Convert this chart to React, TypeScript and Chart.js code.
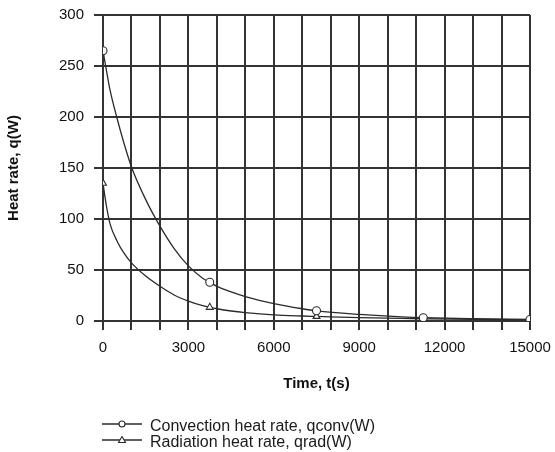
import React, { useEffect, useRef } from "react";
import { Chart, registerables } from "chart.js";

Chart.register(...registerables);

const times = [0, 125, 250, 500, 750, 1000, 1500, 2000, 2500, 3000, 3500, 3750, 4000, 4500, 5000, 6000, 7000, 7500, 9000, 10500, 11250, 13000, 15000];
const convection = [265, 245, 226, 198, 173, 151, 119, 93, 71, 54, 42, 38, 34, 28.5, 24, 17, 12, 10, 6.5, 4, 3.2, 2.2, 1.5];
const radiation = [135, 112, 95, 78, 66, 57, 44, 34, 25.5, 19.5, 15, 13.4, 12, 9.8, 8.2, 6, 4.9, 4.5, 3.3, 2.5, 2.2, 1.6, 1.2];
const markerTimes = [0, 3750, 7500, 11250, 15000];
const seriesLabels = ["Convection heat rate, qconv(W)", "Radiation heat rate, qrad(W)"];
const markerStyles = ["circle", "triangle"];
const xTickLabels = [0, 3000, 6000, 9000, 12000, 15000];

const FONT = "'Liberation Sans', Arial, sans-serif";
const INK = "#2b2b2b";

const legendPlugin = {
  id: "customLegend",
  afterDraw(chart: any) {
    const { ctx, chartArea } = chart;
    ctx.save();
    chart.data.datasets.forEach((ds: any, i: number) => {
      const x0 = chartArea.left - 1;
      const x1 = x0 + 40;
      const y = 424 + i * 16;
      ctx.strokeStyle = INK;
      ctx.lineWidth = 1.3;
      ctx.beginPath();
      ctx.moveTo(x0, y);
      ctx.lineTo(x1, y);
      ctx.stroke();
      ctx.fillStyle = "#fff";
      ctx.lineWidth = 1.1;
      const cx = (x0 + x1) / 2;
      ctx.beginPath();
      if (ds.pointStyle === "circle") {
        ctx.arc(cx, y, 3, 0, Math.PI * 2);
      } else {
        ctx.moveTo(cx, y - 3.5);
        ctx.lineTo(cx + 3.5, y + 2.5);
        ctx.lineTo(cx - 3.5, y + 2.5);
        ctx.closePath();
      }
      ctx.fill();
      ctx.stroke();
      ctx.fillStyle = "#1a1a1a";
      ctx.font = `16px ${FONT}`;
      ctx.textBaseline = "middle";
      ctx.textAlign = "left";
      ctx.fillText(ds.label, x1 + 8, y + 3);
    });
    ctx.restore();
  },
};

export default function App() {
  const ref = useRef<HTMLCanvasElement | null>(null);

  useEffect(() => {
    if (!ref.current) return;
    const mk = (vals: number[]) => times.map((t, i) => ({ x: t, y: vals[i] }));
    const radius = (c: any) => (markerTimes.includes(c.raw?.x) ? 4 : 0);
    const chart = new Chart(ref.current, {
      type: "line",
      data: {
        datasets: [convection, radiation].map((vals, i) => ({
          label: seriesLabels[i],
          data: mk(vals),
          borderColor: INK,
          borderWidth: 1.3,
          backgroundColor: "#fff",
          pointBackgroundColor: "#fff",
          pointBorderColor: INK,
          pointBorderWidth: 1.1,
          pointStyle: markerStyles[i],
          pointRadius: radius,
          pointHoverRadius: radius,
          cubicInterpolationMode: "monotone",
          fill: false,
        })),
      },
      options: {
        responsive: false,
        animation: false,
        events: [],
        layout: { padding: { left: 0, top: 15, right: 25, bottom: 59 } },
        plugins: { legend: { display: false }, tooltip: { enabled: false } },
        scales: {
          x: {
            type: "linear",
            min: 0,
            max: 15000,
            afterFit: (s: any) => {
              s.height = 72;
              s.paddingLeft = 0;
              s.paddingRight = 0;
            },
            afterBuildTicks: (s: any) => {
              const t = [];
              for (let v = 0; v <= 15000; v += 1000) t.push({ value: v });
              s.ticks = t;
            },
            border: { display: true, color: "#333", width: 2 },
            grid: { color: "#333", lineWidth: 2, tickLength: 9, drawTicks: true },
            ticks: {
              autoSkip: false,
              maxRotation: 0,
              padding: 9,
              color: "#111",
              font: { family: FONT, size: 15 },
              callback: (v: any) => (xTickLabels.includes(Number(v)) ? String(v) : ""),
            },
            title: {
              display: true,
              text: "Time, t(s)",
              color: "#111",
              font: { family: FONT, size: 15, weight: "bold" },
              padding: { top: 0, bottom: 0 },
            },
          },
          y: {
            type: "linear",
            min: 0,
            max: 300,
            afterFit: (s: any) => {
              s.width = 103;
              s.paddingTop = 0;
              s.paddingBottom = 0;
            },
            border: { display: true, color: "#333", width: 2 },
            grid: { color: "#333", lineWidth: 2, tickLength: 9 },
            ticks: {
              stepSize: 50,
              padding: 10,
              color: "#111",
              font: { family: FONT, size: 15 },
            },
            title: {
              display: true,
              text: "Heat rate, q(W)",
              color: "#111",
              font: { family: FONT, size: 15, weight: "bold" },
              padding: { top: 5, bottom: 0 },
            },
          },
        },
      },
      plugins: [legendPlugin],
    } as any);
    return () => chart.destroy();
  }, []);

  return (
    <div style={{ position: "absolute", left: 0, top: 0, width: 555, height: 452, background: "#fff" }}>
      <canvas ref={ref} width={555} height={452} style={{ display: "block" }} />
    </div>
  );
}
